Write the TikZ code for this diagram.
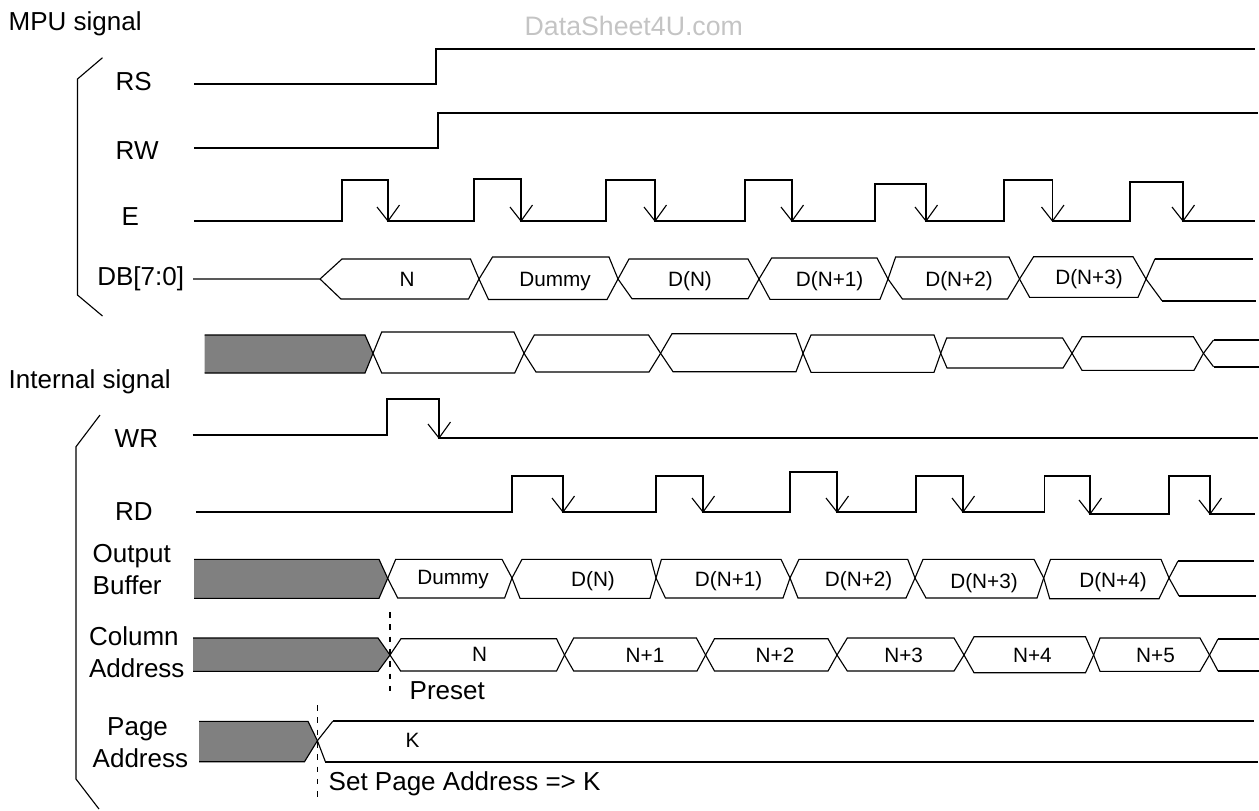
\documentclass[tikz,border=0pt]{standalone}
\usepackage{fontspec}
\setmainfont{Liberation Sans}
\definecolor{maskgray}{HTML}{808080}
\definecolor{markgray}{HTML}{C4C4C4}
\tikzset{
	wave/.style={line width=.55pt},
	bus/.style={line width=.32pt},
	mask/.style={bus,fill=maskgray},
	setline/.style={line width=.55pt,dash pattern=on 1.6pt off 1.9pt},
	sigtext/.style={anchor=base west,inner sep=0pt,font=\fontsize{7.4pt}{8pt}\selectfont},
	valtext/.style={anchor=base,inner sep=0pt,font=\fontsize{5.9pt}{7pt}\selectfont},
}
\begin{document}
\begin{tikzpicture}
	\useasboundingbox (0,0) rectangle (12.59,-8.10);
	% headings
	\node[sigtext] (mpu) at (.08,-.30) {MPU signal};
	\node[sigtext] (inner) at (.08,-3.88) {Internal signal};
	\node[sigtext,text=markgray,font=\fontsize{7.6pt}{8pt}\selectfont] (mark) at (5.24,-.357) {DataSheet4U.com};
	% side brackets
	\draw[bus] (1.025,-.577) -- (.775,-.79) -- (.775,-2.95) -- (1.025,-3.16);
	\draw[bus] (1.00,-4.15) -- (.76,-4.467) -- (.76,-7.79) -- (.99,-8.09);
	% signal names
	\node[sigtext] (rs) at (1.15,-.907) {RS};
	\node[sigtext] (rw) at (1.15,-1.59) {RW};
	\node[sigtext] (e) at (1.21,-2.25) {E};
	\node[sigtext] (db) at (.966,-2.857) {DB[7:0]};
	\node[sigtext] (wr) at (1.14,-4.477) {WR};
	\node[sigtext] (rd) at (1.145,-5.20) {RD};
	\node[sigtext] (outa) at (.92,-5.62) {Output};
	\node[sigtext] (outb) at (.92,-5.94) {Buffer};
	\node[sigtext] (cola) at (.884,-6.457) {Column};
	\node[sigtext] (colb) at (.884,-6.77) {Address};
	\node[sigtext] (pagea) at (1.065,-7.35) {Page};
	\node[sigtext] (pageb) at (.92,-7.67) {Address};
	% control lines
	\draw[wave] (1.94,-.84) -- (4.36,-.84) -- (4.36,-.49) -- (12.55,-.49);
	\draw[wave] (1.94,-1.48) -- (4.38,-1.48) -- (4.38,-1.13) -- (12.58,-1.13);
	\draw[wave] (1.94,-2.21) -- (3.42,-2.21) -- (3.42,-1.80) -- (3.88,-1.80) -- (3.88,-2.21)
		-- (4.74,-2.21) -- (4.74,-1.79) -- (5.21,-1.79) -- (5.21,-2.21)
		-- (6.06,-2.21) -- (6.06,-1.80) -- (6.55,-1.80) -- (6.55,-2.21)
		-- (7.45,-2.21) -- (7.45,-1.80) -- (7.92,-1.80) -- (7.92,-2.21)
		-- (8.75,-2.21) -- (8.75,-1.84) -- (9.26,-1.84) -- (9.26,-2.21)
		-- (10.04,-2.21) -- (10.04,-1.80) -- (10.525,-1.80) -- (10.525,-2.21)
		-- (11.30,-2.21) -- (11.30,-1.82) -- (11.83,-1.82) -- (11.83,-2.21) -- (12.55,-2.21);
	\draw[wave] (1.925,-4.347) -- (3.87,-4.347) -- (3.87,-3.99) -- (4.39,-3.99) -- (4.39,-4.38) -- (12.58,-4.38);
	\draw[wave] (1.96,-5.12) -- (5.12,-5.12) -- (5.12,-4.76) -- (5.63,-4.76) -- (5.63,-5.12)
		-- (6.56,-5.12) -- (6.56,-4.76) -- (7.03,-4.76) -- (7.03,-5.12)
		-- (7.90,-5.12) -- (7.90,-4.717) -- (8.37,-4.717) -- (8.37,-5.12)
		-- (9.16,-5.12) -- (9.16,-4.76) -- (9.63,-4.76) -- (9.63,-5.12)
		-- (10.445,-5.12) -- (10.445,-4.76) -- (10.90,-4.76) -- (10.90,-5.14)
		-- (11.69,-5.14) -- (11.69,-4.76) -- (12.10,-4.76) -- (12.10,-5.14) -- (12.55,-5.14);
	% falling edge marks
	\foreach \x/\y in {3.88/-2.21,5.21/-2.21,6.55/-2.21,7.92/-2.21,9.26/-2.21,10.525/-2.21,11.83/-2.21,
		4.39/-4.38,5.63/-5.12,7.03/-5.12,8.37/-5.12,9.63/-5.12,10.90/-5.14,12.10/-5.14}
		\draw[bus] (\x,\y) ++(-.11,.14) -- (\x,\y) -- ++(.115,.16);
	% DB[7:0] from the MPU
	\draw[bus] (1.93,-2.79) -- (3.20,-2.79) -- (3.42,-2.59) -- (4.705,-2.59) -- (4.79,-2.79) -- (4.685,-2.99) -- (3.41,-2.99) -- (3.20,-2.79);
	\draw[bus] (4.79,-2.79) -- (4.925,-2.57) -- (6.09,-2.57) -- (6.18,-2.79) -- (6.07,-2.995) -- (4.885,-2.995) -- cycle;
	\draw[bus] (6.18,-2.79) -- (6.29,-2.59) -- (7.48,-2.59) -- (7.59,-2.79) -- (7.48,-2.987) -- (6.32,-2.987) -- cycle;
	\draw[bus] (7.59,-2.79) -- (7.716,-2.58) -- (8.77,-2.58) -- (8.88,-2.79) -- (8.80,-2.993) -- (7.70,-2.993) -- cycle;
	\draw[bus] (8.88,-2.79) -- (8.956,-2.57) -- (10.09,-2.57) -- (10.195,-2.79) -- (10.075,-2.99) -- (9.024,-2.99) -- cycle;
	\draw[bus] (10.195,-2.79) -- (10.336,-2.567) -- (11.33,-2.567) -- (11.46,-2.79) -- (11.38,-2.973) -- (10.296,-2.973) -- cycle;
	\draw[bus] (11.55,-2.587) -- (11.46,-2.79) -- (11.62,-3.007);
	\draw[wave] (11.55,-2.587) -- (12.53,-2.587);
	\draw[wave] (11.62,-3.007) -- (12.56,-3.007);
	\node[valtext] (dbn) at (4.07,-2.867) {N};
	\node[valtext] (dbdummy) at (5.55,-2.86) {Dummy};
	\node[valtext] (dbd) at (6.90,-2.867) {D(N)};
	\node[valtext] (dbda) at (8.296,-2.867) {D(N+1)};
	\node[valtext] (dbdb) at (9.59,-2.867) {D(N+2)};
	\node[valtext] (dbdc) at (10.89,-2.84) {D(N+3)};
	% latched data
	\draw[mask] (2.045,-3.35) -- (3.65,-3.35) -- (3.73,-3.533) -- (3.65,-3.73) -- (2.045,-3.73);
	\draw[bus] (3.73,-3.533) -- (3.817,-3.32) -- (5.14,-3.32) -- (5.24,-3.533) -- (5.147,-3.73) -- (3.817,-3.73) -- cycle;
	\draw[bus] (5.24,-3.533) -- (5.343,-3.35) -- (6.485,-3.35) -- (6.606,-3.533) -- (6.49,-3.72) -- (5.36,-3.72) -- cycle;
	\draw[bus] (6.606,-3.533) -- (6.72,-3.337) -- (7.96,-3.337) -- (8.03,-3.533) -- (7.96,-3.717) -- (6.73,-3.717) -- cycle;
	\draw[bus] (8.03,-3.533) -- (8.11,-3.35) -- (9.34,-3.35) -- (9.407,-3.533) -- (9.34,-3.723) -- (8.11,-3.723) -- cycle;
	\draw[bus] (9.407,-3.533) -- (9.467,-3.38) -- (10.626,-3.38) -- (10.72,-3.533) -- (10.63,-3.68) -- (9.47,-3.68) -- cycle;
	\draw[bus] (10.72,-3.533) -- (10.82,-3.367) -- (11.934,-3.367) -- (12.034,-3.533) -- (11.94,-3.703) -- (10.82,-3.703) -- cycle;
	\draw[bus] (12.135,-3.40) -- (12.034,-3.533) -- (12.135,-3.667);
	\draw[wave] (12.135,-3.40) -- (12.59,-3.40);
	\draw[wave] (12.135,-3.667) -- (12.59,-3.667);
	% output buffer
	\draw[mask] (1.94,-5.593) -- (3.79,-5.593) -- (3.877,-5.783) -- (3.79,-5.983) -- (1.94,-5.983);
	\draw[bus] (3.877,-5.783) -- (3.957,-5.593) -- (5.02,-5.593) -- (5.12,-5.78) -- (5.046,-5.98) -- (3.977,-5.98) -- cycle;
	\draw[bus] (5.12,-5.78) -- (5.22,-5.593) -- (6.51,-5.593) -- (6.56,-5.78) -- (6.50,-5.983) -- (5.20,-5.983) -- cycle;
	\draw[bus] (6.56,-5.78) -- (6.614,-5.593) -- (7.81,-5.593) -- (7.90,-5.78) -- (7.83,-5.98) -- (6.654,-5.98) -- cycle;
	\draw[bus] (7.90,-5.78) -- (7.99,-5.593) -- (9.077,-5.593) -- (9.15,-5.78) -- (9.06,-5.98) -- (7.98,-5.98) -- cycle;
	\draw[bus] (9.15,-5.78) -- (9.23,-5.593) -- (10.34,-5.593) -- (10.437,-5.78) -- (10.37,-5.98) -- (9.26,-5.98) -- cycle;
	\draw[bus] (10.437,-5.78) -- (10.505,-5.593) -- (11.61,-5.593) -- (11.69,-5.78) -- (11.59,-5.987) -- (10.497,-5.987) -- cycle;
	\draw[bus] (11.78,-5.61) -- (11.69,-5.78) -- (11.79,-5.96);
	\draw[wave] (11.78,-5.61) -- (12.54,-5.61);
	\draw[wave] (11.79,-5.96) -- (12.56,-5.96);
	\node[valtext] (outdummy) at (4.53,-5.84) {Dummy};
	\node[valtext] (outd) at (5.93,-5.86) {D(N)};
	\node[valtext] (outda) at (7.286,-5.867) {D(N+1)};
	\node[valtext] (outdb) at (8.586,-5.867) {D(N+2)};
	\node[valtext] (outdc) at (9.84,-5.88) {D(N+3)};
	\node[valtext] (outdd) at (11.13,-5.87) {D(N+4)};
	% column address
	\draw[mask] (1.93,-6.38) -- (3.78,-6.38) -- (3.90,-6.55) -- (3.78,-6.713) -- (1.93,-6.713);
	\draw[bus] (3.90,-6.55) -- (4.01,-6.387) -- (5.565,-6.387) -- (5.645,-6.55) -- (5.565,-6.71) -- (4.006,-6.71) -- cycle;
	\draw[bus] (5.645,-6.55) -- (5.737,-6.38) -- (6.964,-6.38) -- (7.056,-6.55) -- (6.97,-6.71) -- (5.737,-6.71) -- cycle;
	\draw[bus] (7.056,-6.55) -- (7.145,-6.387) -- (8.28,-6.387) -- (8.37,-6.55) -- (8.28,-6.71) -- (7.145,-6.71) -- cycle;
	\draw[bus] (8.37,-6.55) -- (8.473,-6.38) -- (9.54,-6.38) -- (9.64,-6.55) -- (9.54,-6.71) -- (8.473,-6.71) -- cycle;
	\draw[bus] (9.64,-6.55) -- (9.74,-6.367) -- (10.855,-6.367) -- (10.936,-6.55) -- (10.855,-6.727) -- (9.74,-6.727) -- cycle;
	\draw[bus] (10.936,-6.55) -- (11.00,-6.38) -- (12.00,-6.38) -- (12.095,-6.55) -- (12.00,-6.713) -- (11.00,-6.713) -- cycle;
	\draw[bus] (12.18,-6.39) -- (12.095,-6.55) -- (12.18,-6.71);
	\draw[wave] (12.18,-6.39) -- (12.59,-6.39);
	\draw[wave] (12.18,-6.71) -- (12.59,-6.71);
	\node[valtext] (coln) at (4.797,-6.61) {N};
	\node[valtext] (colna) at (6.45,-6.627) {N+1};
	\node[valtext] (colnb) at (7.75,-6.627) {N+2};
	\node[valtext] (colnc) at (9.036,-6.627) {N+3};
	\node[valtext] (colnd) at (10.324,-6.627) {N+4};
	\node[valtext] (colne) at (11.555,-6.627) {N+5};
	% page address
	\draw[mask] (1.99,-7.213) -- (3.08,-7.213) -- (3.174,-7.407) -- (3.045,-7.617) -- (1.99,-7.617);
	\draw[bus] (3.327,-7.213) -- (3.174,-7.407) -- (3.254,-7.617);
	\draw[wave] (3.327,-7.213) -- (12.54,-7.213);
	\draw[wave] (3.254,-7.617) -- (12.58,-7.617);
	\node[valtext] (pagek) at (4.126,-7.477) {K};
	% set points
	\draw[setline] (3.90,-6.12) -- (3.90,-6.97);
	\draw[setline] (3.175,-7.05) -- (3.175,-8.03);
	\node[sigtext] (preset) at (4.09,-6.99) {Preset};
	\node[sigtext] (setpage) at (3.28,-7.907) {Set Page Address => K};
\end{tikzpicture}
\end{document}
